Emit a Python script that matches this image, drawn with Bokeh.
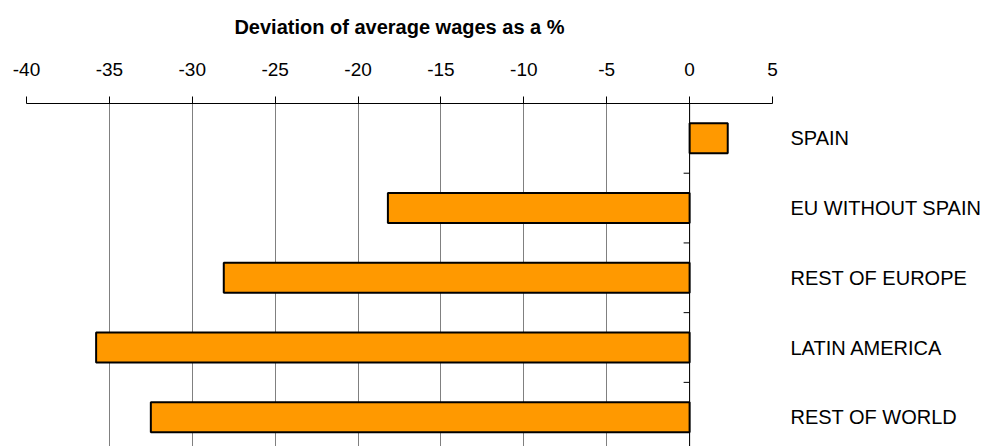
import math
from bokeh.plotting import figure
from bokeh.models import ColumnDataSource, FixedTicker, Range1d, Span
from bokeh.embed import file_html
from bokeh.resources import INLINE

categories = ["SPAIN", "EU WITHOUT SPAIN", "REST OF EUROPE", "LATIN AMERICA", "REST OF WORLD"]
values = [2.3, -18.2, -28.1, -35.8, -32.5]
x_ticks = [-40, -35, -30, -25, -20, -15, -10, -5, 0, 5]
title_text = "Deviation of average wages as a %"

FONT = "Liberation Sans"
n = len(categories)
centers = [i + 0.5 for i in range(n)]
boundaries = [float(i) for i in range(1, n)]

src = ColumnDataSource(dict(y=centers, right=values, left=[0] * n, cat=categories))

p = figure(width=984, height=446, output_backend="svg", toolbar_location=None,
           x_axis_location="above", y_axis_location="right",
           x_range=Range1d(x_ticks[0], x_ticks[-1]),
           y_range=Range1d(4.92, 0),
           min_border_left=26, min_border_right=209, min_border_top=103, min_border_bottom=0)
p.outline_line_color = None
p.background_fill_color = "white"
p.border_fill_color = "white"

# top axis, with the chart title as its label
xa = p.xaxis[0]
xa.ticker = FixedTicker(ticks=x_ticks)
xa.major_label_overrides = {t: str(t) for t in x_ticks}
xa.axis_line_color = "black"
xa.axis_line_width = 1
xa.major_tick_out = 7
xa.major_tick_in = 0
xa.major_tick_line_color = "black"
xa.minor_tick_line_color = None
xa.major_label_text_font = FONT
xa.major_label_text_font_size = "19px"
xa.major_label_text_color = "black"
xa.major_label_standoff = 21
xa.axis_label = title_text
xa.axis_label_text_font = FONT
xa.axis_label_text_font_size = "20px"
xa.axis_label_text_font_style = "bold"
xa.axis_label_text_color = "black"
xa.axis_label_standoff = 22

# right category axis
ya = p.yaxis[0]
ya.ticker = FixedTicker(ticks=centers)
ya.major_label_overrides = {c: cat for c, cat in zip(centers, categories)}
ya.axis_line_color = None
ya.major_tick_line_color = None
ya.minor_tick_line_color = None
ya.major_label_text_font = FONT
ya.major_label_text_font_size = "20px"
ya.major_label_text_color = "black"
ya.major_label_standoff = 12

# grids
p.xgrid.ticker = FixedTicker(ticks=x_ticks)
p.xgrid.grid_line_color = "#808080"
p.xgrid.grid_line_width = 1
p.ygrid.grid_line_color = None

# bars
p.hbar(y="y", left="left", right="right", height=0.43, source=src,
       fill_color="#ff9900", line_color="black", line_width=2)

# zero line and its small ticks between categories
p.add_layout(Span(location=0, dimension="height", line_color="black", line_width=1))
p.ray(x=[0] * len(boundaries), y=boundaries, length=6, length_units="screen",
      angle=math.pi, line_color="black", line_width=1)

open("out.html", "w").write(file_html(p, INLINE))
